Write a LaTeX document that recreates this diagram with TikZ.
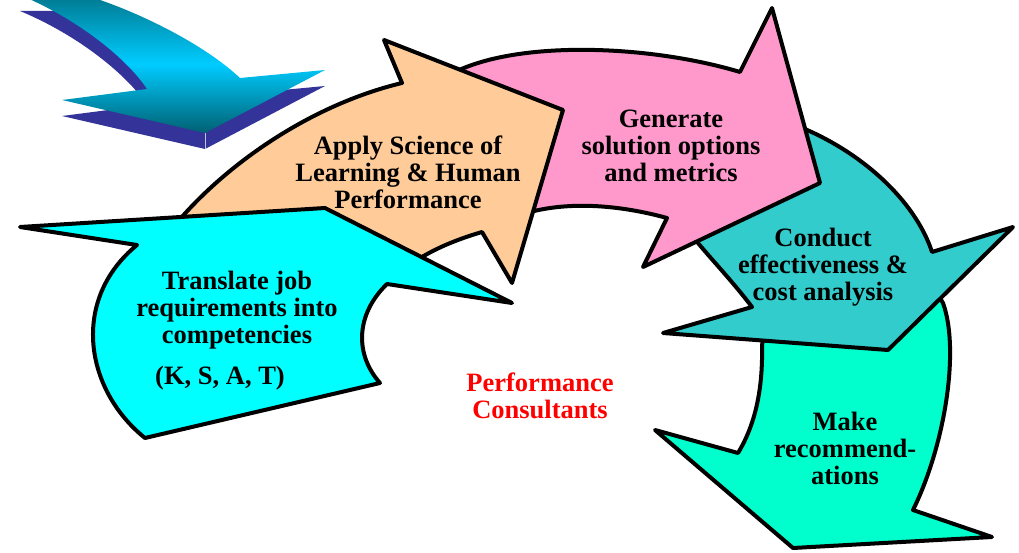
\documentclass[tikz,border=0pt]{standalone}
\usepackage{fontspec}
\setmainfont{Liberation Serif}
\definecolor{cyanfill}{HTML}{00FFFF}
\definecolor{peachfill}{HTML}{FFCC99}
\definecolor{pinkfill}{HTML}{FF99CC}
\definecolor{tealfill}{HTML}{33CCCC}
\definecolor{aquafill}{HTML}{00FFCC}
\definecolor{sideblue}{HTML}{333399}
\definecolor{deepteal}{HTML}{00788F}
\definecolor{lightteal}{HTML}{00CCFF}
\begin{document}
\begin{tikzpicture}[x=1pt, y=-1pt,
        chevron/.style={draw=black, line width=4pt, line join=round},
        lbl/.style={font=\fontsize{26.5}{27}\selectfont\bfseries, align=center, inner sep=0pt}]
        \useasboundingbox (0,0) rectangle (1019,553);
        \clip (0,0) rectangle (1019,553);
        % entry arrow, side faces first then the shaded top
        \fill[sideblue] (85,11) .. controls (140,28) and (205,61) .. (240,94)
        -- (325,86) -- (205,149) -- (62,116) -- (147,105)
        .. controls (128,76) and (80,36) .. (20,11) -- cycle;
        \shade[top color=deepteal, bottom color=deepteal!80!black, middle color=lightteal]
        (85,-5) .. controls (140,12) and (205,45) .. (240,78)
        -- (325,70) -- (205,133) -- (62,100) -- (147,89)
        .. controls (128,60) and (80,20) .. (20,-5) -- cycle;
        \draw[white!70!sideblue, line width=0.6pt] (205,133) -- (205,149);
        % the five steps, back to front
        \filldraw[chevron, fill=aquafill] (765,330) -- (762,345)
        .. controls (763,390) and (755,425) .. (738,453) -- (655,430)
        -- (793,548) -- (992,537) -- (913,510)
        .. controls (945,445) and (960,350) .. (943,303) -- (935,290) -- cycle;
        \filldraw[chevron, fill=tealfill] (795,125)
        .. controls (860,150) and (915,200) .. (932,252) -- (1013,227)
        -- (888,350) -- (663,333) -- (752,307)
        .. controls (733,282) and (712,260) .. (698,243) -- (690,232) -- cycle;
        \filldraw[chevron, fill=pinkfill] (455,72)
        .. controls (520,40) and (650,45) .. (740,72) -- (772,8)
        -- (820,183) -- (643,267) -- (667,218)
        .. controls (620,205) and (565,200) .. (520,215) -- (500,150) -- cycle;
        \filldraw[chevron, fill=peachfill] (175,225)
        .. controls (225,165) and (310,105) .. (402,83) -- (384,40)
        -- (563,110) -- (512,283) -- (482,232)
        .. controls (455,240) and (430,250) .. (405,268) -- (220,245) -- cycle;
        \filldraw[chevron, fill=cyanfill] (20,227) -- (325,208) -- (512,303)
        -- (387,284) .. controls (355,315) and (355,355) .. (380,383)
        -- (145,438) .. controls (85,390) and (70,300) .. (137,245) -- cycle;
        % step texts
        \node[lbl] (translate) at (237,310) {Translate job\\requirements into\\competencies};
        \node[lbl] (ksat) at (220,378) {(K, S, A, T)};
        \node[lbl] (apply) at (408,172) {Apply Science of\\Learning \& Human\\Performance};
        \node[lbl] (generate) at (671,146) {Generate\\solution options\\and metrics};
        \node[lbl] (conduct) at (823,267) {Conduct\\effectiveness \&\\cost analysis};
        \node[lbl] (make) at (845,448) {Make\\recommend-\\ations};
        \node[lbl, text=red] (consult) at (540,396) {Performance\\Consultants};
\end{tikzpicture}
\end{document}
